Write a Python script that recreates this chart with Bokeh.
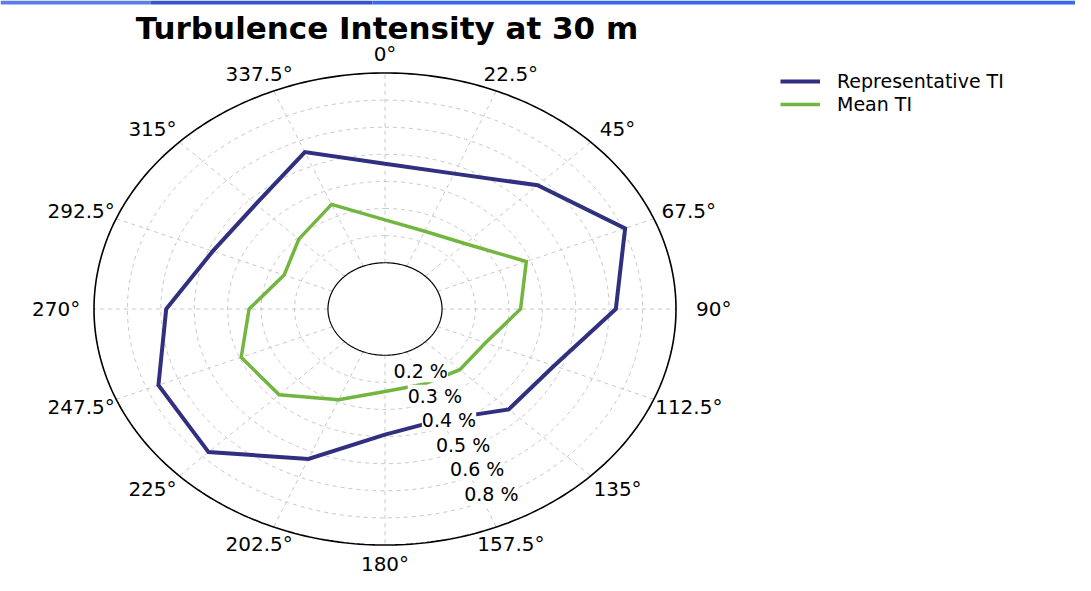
import numpy as np
from bokeh.plotting import figure
from bokeh.models import Label, Legend, LegendItem, Range1d, ColumnDataSource
from bokeh.core.properties import value
from bokeh.embed import file_html
from bokeh.resources import INLINE

# ---------------- data ----------------
directions = [0, 22.5, 45, 67.5, 90, 112.5, 135, 157.5,
              180, 202.5, 225, 247.5, 270, 292.5, 315, 337.5]
direction_labels = ["0°", "22.5°", "45°", "67.5°", "90°", "112.5°", "135°", "157.5°",
                    "180°", "202.5°", "225°", "247.5°", "270°", "292.5°", "315°", "337.5°"]
representative_ti = [0.465, 0.470, 0.575, 0.707, 0.620, 0.477, 0.453, 0.371,
                     0.393, 0.528, 0.676, 0.663, 0.584, 0.487, 0.476, 0.556]
mean_ti = [0.258, 0.240, 0.270, 0.387, 0.335, 0.255, 0.246, 0.230,
           0.234, 0.292, 0.377, 0.395, 0.336, 0.256, 0.294, 0.347]
radial_ticks = [0.2, 0.3, 0.4, 0.5, 0.6, 0.7]
radial_tick_labels = ["0.2 %", "0.3 %", "0.4 %", "0.5 %", "0.6 %", "0.8 %"]
r_min, r_max = 0.1, 0.8

# ---------------- styling ----------------
BLUE = "#302f80"
GREEN = "#72b640"
GRID = "#c8c8c8"
HOLE = 0.196          # fraction of outer radius occupied by the inner hole
LABEL_ANGLE = 155.0   # direction of radial tick labels
FONT = "DejaVu Sans"

W, H = 1075, 575
CX, CY = 384.5, 308.5     # centre in figure pixels (from top-left)
SX, SY = 291.0, 236.0     # pixels per unit radius (x, y)


def to_r(v):
    return HOLE + (np.asarray(v, dtype=float) - r_min) / (r_max - r_min) * (1 - HOLE)


def to_xy(theta_deg, rr):
    t = np.radians(np.asarray(theta_deg, dtype=float))
    return rr * np.sin(t), rr * np.cos(t)


x0r, x1r = -CX / SX, (W - CX) / SX
y0r, y1r = -(H - CY) / SY, CY / SY
p = figure(width=W, height=H, output_backend="svg", toolbar_location=None,
           x_range=Range1d(x0r, x1r), y_range=Range1d(y0r, y1r),
           x_axis_type=None, y_axis_type=None, min_border=0,
           outline_line_color=None, background_fill_color="white")
p.xgrid.visible = False
p.ygrid.visible = False

# decorative slide band along the top edge
band_h = 4.0 / SY
band_edges = [x0r, x0r + 150 / SX, x0r + 372 / SX, x1r]
band_colors = ["#5a7ee4", "#3555cc", "#3a66f0"]
p.quad(left=band_edges[:-1], right=band_edges[1:], top=[y1r] * 3,
       bottom=[y1r - band_h] * 3, fill_color=band_colors, line_color=None)

# grid circles
circ = np.linspace(0, 360, 361)
gx, gy = [], []
for tv in radial_ticks:
    x, y = to_xy(circ, to_r(tv))
    gx.append(list(x)); gy.append(list(y))
p.multi_line(xs=gx, ys=gy, line_color=GRID, line_dash="4 4", line_width=1)

# spokes
sx0, sy0 = to_xy(directions, HOLE)
sx1, sy1 = to_xy(directions, 1.0)
p.segment(x0=sx0, y0=sy0, x1=sx1, y1=sy1, line_color=GRID, line_dash="4 4", line_width=1)

# outer and inner circles
ox, oy = to_xy(circ, 1.0)
p.line(ox, oy, line_color="black", line_width=1.6)
ix, iy = to_xy(circ, HOLE)
p.line(ix, iy, line_color="black", line_width=1.2)

# data lines (closed)
def closed(vals):
    d = list(directions) + [directions[0]]
    v = list(vals) + [vals[0]]
    x, y = to_xy(d, to_r(v))
    return ColumnDataSource(dict(x=x, y=y))

r_rep = p.line("x", "y", source=closed(representative_ti), line_color=BLUE,
               line_width=4, line_join="miter")
r_mean = p.line("x", "y", source=closed(mean_ti), line_color=GREEN,
                line_width=3.5, line_join="miter")

# direction labels
t = np.radians(np.asarray(directions, dtype=float))
lx, ly = 1.13 * np.sin(t), 1.08 * np.cos(t)
p.text(x=lx, y=ly, text=direction_labels, text_font=value(FONT), text_font_size="20px",
       text_align="center", text_baseline="middle", text_color="black")

# radial tick labels
for tv, lab in zip(radial_ticks, radial_tick_labels):
    x, y = to_xy(LABEL_ANGLE, float(to_r(tv)) - 0.02)
    p.add_layout(Label(x=float(x), y=float(y), text=lab, text_font=FONT,
                       text_font_size="19px", text_align="center",
                       text_baseline="middle", background_fill_color="white",
                       text_color="black"))

# title
p.add_layout(Label(x=386.5, y=H - 27, x_units="screen", y_units="screen",
                   text="Turbulence Intensity at 30 m", text_font=FONT,
                   text_font_style="bold", text_font_size="31px",
                   text_align="center", text_baseline="alphabetic",
                   text_color="black"))

# legend: one entry per Legend so each row can be placed exactly
legend_common = dict(orientation="vertical", border_line_color=None,
                     background_fill_alpha=0, padding=0, margin=0,
                     glyph_width=40, glyph_height=22, label_height=22,
                     label_standoff=17, label_text_font=FONT,
                     label_text_font_size="19px", label_text_color="black")
p.add_layout(Legend(items=[LegendItem(label="Representative TI", renderers=[r_rep])],
                    location=(780, H - 92), **legend_common))
p.add_layout(Legend(items=[LegendItem(label="Mean TI", renderers=[r_mean])],
                    location=(780, H - 115), **legend_common))

open("out.html", "w").write(file_html(p, INLINE))
